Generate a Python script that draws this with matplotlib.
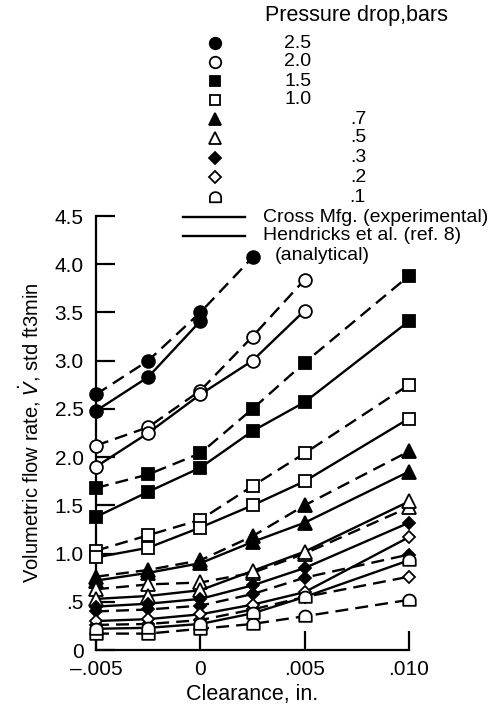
import matplotlib
matplotlib.use("Agg")
import matplotlib.pyplot as plt
from matplotlib.lines import Line2D
from matplotlib.path import Path
import numpy as np

plt.rcParams['font.family'] = ['Liberation Sans', 'DejaVu Sans']

# ---------------- data ----------------
clearance = [-0.005, -0.0025, 0.0, 0.0025, 0.005, 0.010]

pressure_labels = ["2.5", "2.0", "1.5", "1.0", ".7", ".5", ".3", ".2", ".1"]

# Cross Mfg. (experimental) - solid lines
exp_25 = [2.48, 2.83, 3.41]
exp_20 = [1.90, 2.25, 2.65, 3.00, 3.52]
exp_15 = [1.38, 1.64, 1.89, 2.27, 2.57, 3.41]
exp_10 = [0.96, 1.06, 1.27, 1.50, 1.75, 2.40]
exp_07 = [0.72, 0.80, 0.90, 1.12, 1.32, 1.85]
exp_05 = [0.53, 0.56, 0.62, 0.82, 1.02, 1.54]
exp_03 = [0.45, 0.48, 0.53, 0.67, 0.85, 1.32]
exp_02 = [0.30, 0.32, 0.37, 0.47, 0.60, 1.17]
exp_01 = [0.22, 0.23, 0.27, 0.38, 0.55, 0.93]

# Hendricks et al. (analytical) - dashed lines
ana_25 = [2.65, 3.00, 3.50, 4.07]
ana_20 = [2.12, 2.31, 2.69, 3.25, 3.84]
ana_15 = [1.68, 1.82, 2.04, 2.50, 2.98, 3.88]
ana_10 = [1.03, 1.19, 1.35, 1.70, 2.04, 2.75]
ana_07 = [0.76, 0.83, 0.93, 1.18, 1.50, 2.06]
ana_05 = [0.63, 0.68, 0.70, 0.80, 1.00, 1.48]
ana_03 = [0.40, 0.42, 0.46, 0.58, 0.75, 0.99]
ana_02 = [0.26, 0.27, 0.31, 0.42, 0.55, 0.76]
ana_01 = [0.17, 0.17, 0.22, 0.27, 0.35, 0.52]

exp_series = [exp_25, exp_20, exp_15, exp_10, exp_07, exp_05, exp_03, exp_02, exp_01]
ana_series = [ana_25, ana_20, ana_15, ana_10, ana_07, ana_05, ana_03, ana_02, ana_01]

xticks = [-0.005, 0.0, 0.005, 0.010]
xticklabels = ["\u2013.005", "0", ".005", ".010"]
yticks = [0, 0.5, 1.0, 1.5, 2.0, 2.5, 3.0, 3.5, 4.0, 4.5]
yticklabels = ["0", ".5", "1.0", "1.5", "2.0", "2.5", "3.0", "3.5", "4.0", "4.5"]

# ---------------- styles ----------------
theta = np.linspace(0, np.pi, 25)
dome_verts = [(np.cos(t), np.sin(t) * 0.95) for t in theta] + [(-1, -0.85), (1, -0.85), (1, 0)]
dome = Path(dome_verts + [dome_verts[0]], closed=True)

markers = ['o', 'o', 's', 's', '^', '^', 'D', 'D', dome]
filled = [True, False, True, False, True, False, True, False, False]
msizes = [9.2, 9.2, 8.6, 8.6, 9.4, 9.4, 6.5, 6.5, 9.0]

W, H = 493, 709
fig = plt.figure(figsize=(W / 100, H / 100), dpi=100)
ax = fig.add_axes([96 / W, 59 / H, 313 / W, 434 / H])

dash = (0, (5.5, 3.0))
for i in range(len(pressure_labels)):
    fc = 'black' if filled[i] else 'white'
    for series, ls in ((ana_series[i], dash), (exp_series[i], '-')):
        ax.plot(clearance[:len(series)], series, color='black', lw=1.7, ls=ls,
                marker=markers[i], ms=msizes[i], mfc=fc, mec='black', mew=1.3,
                clip_on=False, zorder=3)

ax.set_xlim(-0.005, 0.010)
ax.set_ylim(0, 4.5)
ax.set_xticks(xticks)
ax.set_xticklabels(xticklabels)
ax.set_yticks(yticks)
ax.set_yticklabels(yticklabels)
for s in ('top', 'right'):
    ax.spines[s].set_visible(False)
for s in ('left', 'bottom'):
    ax.spines[s].set_linewidth(1.6)
ax.tick_params(axis='both', direction='in', length=14, width=1.6, labelsize=15)
ax.tick_params(axis='y', pad=9)
ax.tick_params(axis='x', pad=7)
ax.set_xlabel("Clearance, in.", fontsize=15.5, labelpad=4)
ax.set_ylabel(r"Volumetric flow rate, $\dot{V}$, std ft3min", fontsize=14.5, labelpad=8)

# ---------------- legend (manual) ----------------
def fy(py):
    return 1 - py / H

fig.text(265 / W, fy(15), "Pressure drop,bars", fontsize=15.5, ha='left', va='center')
row_y = [43, 62, 81, 100, 119, 138, 158, 177, 197]
label_x = [298, 298, 298, 298, 358, 358, 358, 358, 357]
for i, lab in enumerate(pressure_labels):
    fc = 'black' if filled[i] else 'white'
    fig.add_artist(Line2D([215 / W], [fy(row_y[i])], transform=fig.transFigure,
                          marker=markers[i], ms=msizes[i] * 0.9, mfc=fc, mec='black',
                          mew=1.3, ls='none'))
    fig.text(label_x[i] / W, fy(row_y[i]), lab, fontsize=14, ha='center', va='center')

fig.add_artist(Line2D([183 / W, 245 / W], [fy(217), fy(217)], transform=fig.transFigure,
                      color='black', lw=1.7))
fig.add_artist(Line2D([183 / W, 245 / W], [fy(236), fy(236)], transform=fig.transFigure,
                      color='black', lw=1.7))
fig.text(263 / W, fy(217), "Cross Mfg. (experimental)", fontsize=14, ha='left', va='center')
fig.text(263 / W, fy(236), "Hendricks et al. (ref. 8)", fontsize=14, ha='left', va='center')
fig.text(275 / W, fy(255), "(analytical)", fontsize=14, ha='left', va='center')

fig.savefig("out.png", dpi=100, facecolor='white')
